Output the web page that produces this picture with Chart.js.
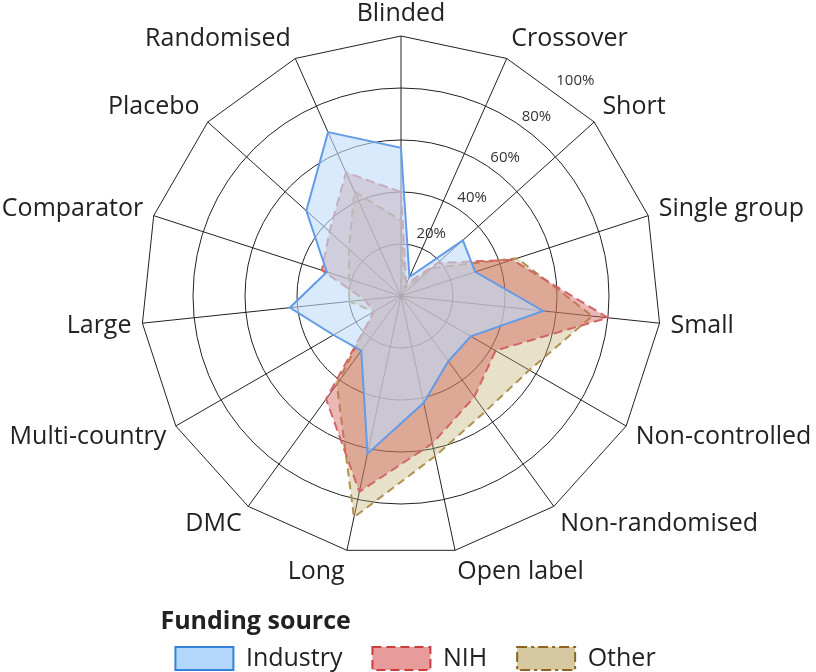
<!DOCTYPE html>
<html>
<head>
<meta charset="utf-8">
<script src="https://cdn.jsdelivr.net/npm/chart.js@4"></script>
<style>
  html, body { margin: 0; padding: 0; background: #fff; }
  #wrap { width: 816px; height: 672px; }
</style>
</head>
<body>
<div id="wrap"><canvas id="chart"></canvas></div>
<script>
const categories = ["Blinded", "Crossover", "Short", "Single group", "Small", "Non-controlled",
  "Non-randomised", "Open label", "Long", "DMC", "Multi-country", "Large", "Comparator",
  "Placebo", "Randomised"];
const industry = [57, 8, 32, 30, 55, 31, 31, 42, 62, 26, 30, 43, 30, 49, 69];
const nih = [40, 5, 19, 45, 80, 42, 48, 58, 77, 49, 12, 14, 32, 37, 52];
const other = [29, 3, 16, 47, 74, 57, 55, 63, 87, 42, 12, 20, 21, 27, 44];
const tickValues = [20, 40, 60, 80, 100];

const FONT = "'Open Sans', 'Noto Sans', sans-serif";
// where each % label sits (degrees, counter-clockwise from 3 o'clock)
const tickLabelAngles = [64, 54, 53, 53, 51];

// legend swatches look a bit stronger than the fills on the chart
const legendStyle = [
  { fill: "rgb(179,215,250)", stroke: "rgb(50,130,220)", dash: [] },
  { fill: "rgb(232,155,155)", stroke: "rgb(205,60,60)", dash: [9, 5] },
  { fill: "rgb(214,200,160)", stroke: "rgb(140,100,30)", dash: [10, 4, 3, 4] },
];

// point labels: drawn by hand so the side ones sit level with their spoke
const axisLabels = {
  id: "axisLabels",
  afterDraw(chart) {
    const s = chart.scales.r;
    const ctx = chart.ctx;
    ctx.save();
    ctx.font = "25px " + FONT;
    ctx.fillStyle = "#222";
    ctx.textBaseline = "middle";
    chart.data.labels.forEach((lbl, i) => {
      const a = s.getIndexAngle(i);
      const p = s.getPointPosition(i, s.drawingArea);
      const sn = Math.sin(a), cs = Math.cos(a);
      ctx.textAlign = sn > 0.05 ? "left" : sn < -0.05 ? "right" : "center";
      ctx.fillText(lbl, p.x + 11 * sn, p.y - 22 * cs);
    });
    ctx.restore();
  }
};

// % labels drawn flat, between Crossover and Short spokes
const tickLabels = {
  id: "tickLabels",
  afterDatasetsDraw(chart) {
    const s = chart.scales.r;
    const ctx = chart.ctx;
    ctx.save();
    ctx.font = "15px " + FONT;
    ctx.fillStyle = "#333";
    ctx.textAlign = "center";
    ctx.textBaseline = "middle";
    tickValues.forEach((v, i) => {
      const a = tickLabelAngles[i] * Math.PI / 180;
      const d = s.getDistanceFromCenterForValue(v) + 17;
      ctx.fillText(v + "%", s.xCenter + Math.cos(a) * d, s.yCenter - Math.sin(a) * d);
    });
    ctx.restore();
  }
};

// legend sits a little right of the chart centre in the original
const legendShift = {
  id: "legendShift",
  afterLayout(chart) {
    chart.legend.left += 14;
    chart.legend.right += 14;
  }
};

new Chart("chart", {
  type: "radar",
  data: {
    labels: categories,
    datasets: [
      {
        label: "Industry", data: industry,
        backgroundColor: "rgba(190,220,248,0.6)", borderColor: "rgb(100,155,230)",
        borderWidth: 2, fill: true,
      },
      {
        label: "NIH", data: nih,
        backgroundColor: "rgba(211,100,90,0.45)", borderColor: "rgb(210,100,100)",
        borderWidth: 2, borderDash: [9, 5], fill: true,
      },
      {
        label: "Other", data: other,
        backgroundColor: "rgba(190,170,100,0.35)", borderColor: "rgb(175,145,80)",
        borderWidth: 2, borderDash: [8, 5], fill: true,
      },
    ],
  },
  options: {
    responsive: true,
    maintainAspectRatio: false,
    animation: false,
    elements: { line: { tension: 0 }, point: { radius: 0, hoverRadius: 0 } },
    layout: { padding: { top: 36, right: 13 } },
    scales: {
      r: {
        min: 0, max: 100,
        ticks: { stepSize: 20, display: false },
        grid: {
          color: "#222", lineWidth: 1,
          circular: ctx => ctx.tick && ctx.tick.value < 100,
        },
        angleLines: { color: "#222", lineWidth: 1 },
        pointLabels: { display: false },
      },
    },
    plugins: {
      tooltip: { enabled: false },
      legend: {
        position: "bottom",
        maxHeight: 116,
        title: {
          display: true, text: "Funding source", position: "start",
          color: "#222", font: { family: FONT, size: 25, weight: "bold" },
          padding: { top: 53, bottom: -23 },
        },
        labels: {
          boxWidth: 58, boxHeight: 23, padding: 30, color: "#222",
          font: { family: FONT, size: 25 },
          generateLabels: chart => chart.data.datasets.map((ds, i) => ({
            text: ds.label, datasetIndex: i, hidden: false,
            fillStyle: legendStyle[i].fill, strokeStyle: legendStyle[i].stroke,
            lineWidth: 2, lineDash: legendStyle[i].dash, fontColor: "#222",
          })),
        },
      },
    },
  },
  plugins: [tickLabels, axisLabels, legendShift],
});
</script>
</body>
</html>
